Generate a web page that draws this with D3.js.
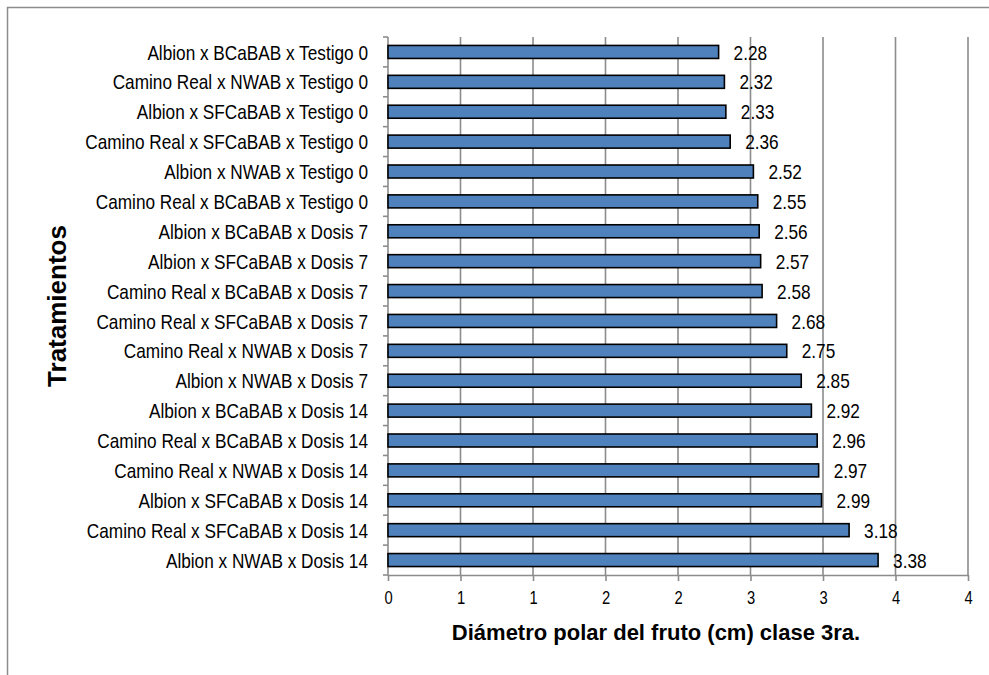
<!DOCTYPE html>
<html>
<head>
<meta charset="utf-8">
<script src="https://cdn.jsdelivr.net/npm/d3@7"></script>
<style>
  html, body { margin: 0; padding: 0; background: #fff; }
  svg { display: block; }
</style>
</head>
<body>
<svg id="chart" width="989" height="675"></svg>
<script>
// ---- data ----
const categories = [
  "Albion x BCaBAB x Testigo 0",
  "Camino Real x NWAB x Testigo 0",
  "Albion x SFCaBAB x Testigo 0",
  "Camino Real x SFCaBAB x Testigo 0",
  "Albion x NWAB x Testigo 0",
  "Camino Real x BCaBAB x Testigo 0",
  "Albion x BCaBAB x Dosis 7",
  "Albion x SFCaBAB x Dosis 7",
  "Camino Real x BCaBAB x Dosis 7",
  "Camino Real x SFCaBAB x Dosis 7",
  "Camino Real x NWAB x Dosis 7",
  "Albion x NWAB x Dosis 7",
  "Albion x BCaBAB x Dosis 14",
  "Camino Real x BCaBAB x Dosis 14",
  "Camino Real x NWAB x Dosis 14",
  "Albion x SFCaBAB x Dosis 14",
  "Camino Real x SFCaBAB x Dosis 14",
  "Albion x NWAB x Dosis 14"
];
const values = [2.28, 2.32, 2.33, 2.36, 2.52, 2.55, 2.56, 2.57, 2.58, 2.68, 2.75, 2.85, 2.92, 2.96, 2.97, 2.99, 3.18, 3.38];
const tickValues = [0, 0.5, 1, 1.5, 2, 2.5, 3, 3.5, 4];
const tickLabels = ["0", "1", "1", "2", "2", "3", "3", "4", "4"];
const xTitle = "Diámetro polar del fruto (cm) clase 3ra.";
const yTitle = "Tratamientos";

// ---- layout ----
const svg = d3.select("#chart");
const plot = { left: 388, right: 968, top: 37, bottom: 575 };
const FONT = "'Liberation Sans', Arial, sans-serif";
const NARROW_SCALE = 0.82; // emulate Arial Narrow

// outer chart border (runs off the canvas on the right/bottom)
svg.append("rect")
  .attr("x", 7.5).attr("y", 7.5).attr("width", 1100).attr("height", 700)
  .attr("fill", "#fff").attr("stroke", "#8c8c8c").attr("stroke-width", 1.5);

const x = d3.scaleLinear().domain([0, 4]).range([plot.left, plot.right]);
const y = d3.scaleBand().domain(categories).range([plot.top, plot.bottom])
  .paddingInner(130 / 230).paddingOuter(65 / 230);
const yOuter = d3.scaleBand().domain(categories).range([plot.top, plot.bottom]);

// gridlines
svg.append("g").selectAll("line")
  .data(tickValues.slice(1))
  .join("line")
  .attr("x1", d => x(d)).attr("x2", d => x(d))
  .attr("y1", plot.top).attr("y2", plot.bottom)
  .attr("stroke", "#8c8c8c").attr("stroke-width", 1.6);

// x axis
const xAxis = d3.axisBottom(x)
  .tickValues(tickValues)
  .tickFormat((d, i) => tickLabels[i])
  .tickSize(6).tickSizeOuter(0).tickPadding(10);
const gx = svg.append("g").attr("transform", `translate(0,${plot.bottom})`).call(xAxis);
gx.select(".domain").attr("stroke", "#8c8c8c").attr("stroke-width", 1.6);
gx.selectAll(".tick line").attr("stroke", "#8c8c8c").attr("stroke-width", 1.6);
gx.selectAll(".tick text")
  .attr("font-family", FONT).attr("font-size", 18).attr("fill", "#000")
  .attr("transform", function () {
    const yy = +d3.select(this).attr("y");
    d3.select(this).attr("y", 0);
    return `translate(0,${yy}) scale(${NARROW_SCALE},1)`;
  });

// y axis (ticks at category boundaries, Excel style)
const boundaries = categories.map(c => yOuter(c)).concat([plot.bottom]);
svg.append("line")
  .attr("x1", plot.left).attr("x2", plot.left)
  .attr("y1", plot.top).attr("y2", plot.bottom)
  .attr("stroke", "#8c8c8c").attr("stroke-width", 1.6);
svg.append("g").selectAll("line")
  .data(boundaries)
  .join("line")
  .attr("x1", plot.left - 5).attr("x2", plot.left)
  .attr("y1", d => d).attr("y2", d => d)
  .attr("stroke", "#8c8c8c").attr("stroke-width", 1.6);

// category labels
svg.append("g").selectAll("text")
  .data(categories)
  .join("text")
  .attr("transform", d => `translate(368,${yOuter(d) + yOuter.bandwidth() / 2}) scale(${NARROW_SCALE},1)`)
  .attr("dy", "0.36em")
  .attr("text-anchor", "end")
  .attr("font-family", FONT).attr("font-size", 21).attr("fill", "#000")
  .text(d => d);

// bars
svg.append("g").selectAll("rect")
  .data(values)
  .join("rect")
  .attr("x", x(0))
  .attr("y", (d, i) => y(categories[i]))
  .attr("width", d => x(d) - x(0))
  .attr("height", y.bandwidth())
  .attr("fill", "#4F81BD")
  .attr("stroke", "#000").attr("stroke-width", 1.6);

// value labels
svg.append("g").selectAll("text")
  .data(values)
  .join("text")
  .attr("transform", (d, i) => `translate(${x(d) + 15},${yOuter(categories[i]) + yOuter.bandwidth() / 2}) scale(${NARROW_SCALE},1)`)
  .attr("dy", "0.36em")
  .attr("font-family", FONT).attr("font-size", 21).attr("fill", "#000")
  .text(d => d.toFixed(2));

// axis titles
svg.append("text")
  .attr("x", 656).attr("y", 640)
  .attr("text-anchor", "middle")
  .attr("font-family", FONT).attr("font-weight", "bold").attr("font-size", 22)
  .attr("fill", "#000")
  .text(xTitle);

svg.append("text")
  .attr("transform", "translate(66,306) rotate(-90)")
  .attr("text-anchor", "middle")
  .attr("font-family", FONT).attr("font-weight", "bold").attr("font-size", 26)
  .attr("fill", "#000")
  .text(yTitle);
</script>
</body>
</html>
